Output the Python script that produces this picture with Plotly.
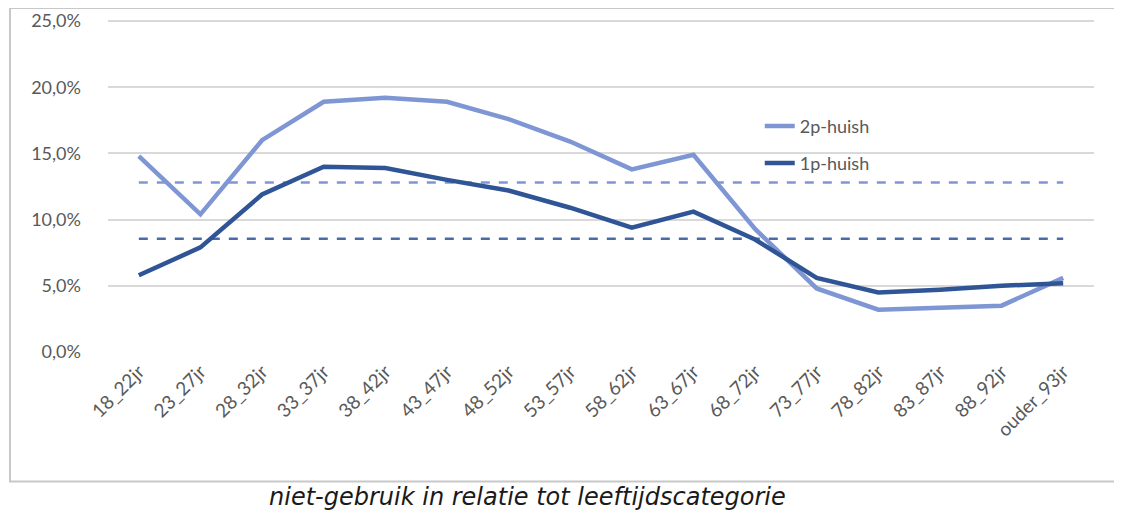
import plotly.graph_objects as go

categories = ["18_22jr", "23_27jr", "28_32jr", "33_37jr", "38_42jr", "43_47jr",
              "48_52jr", "53_57jr", "58_62jr", "63_67jr", "68_72jr", "73_77jr",
              "78_82jr", "83_87jr", "88_92jr", "ouder_93jr"]
huish_2p = [14.8, 10.4, 16.0, 18.9, 19.2, 18.9, 17.6, 15.9, 13.8, 14.9,
            9.3, 4.8, 3.2, 3.35, 3.5, 5.6]
huish_1p = [5.8, 7.9, 11.9, 14.0, 13.9, 13.0, 12.2, 10.9, 9.4, 10.6,
            8.5, 5.6, 4.5, 4.7, 5.0, 5.2]
avg_2p = 12.8
avg_1p = 8.55
y_ticks = [0, 5, 10, 15, 20, 25]
y_labels = [f"{v:.1f}%".replace(".", ",") for v in y_ticks]

light = "#7f96d4"
dark = "#2f5597"
grey = "#595959"

fig = go.Figure()
fig.add_trace(go.Scatter(x=categories, y=[avg_2p] * len(categories), mode="lines",
                         line=dict(color=light, width=2.5, dash="dash"),
                         showlegend=False, hoverinfo="skip"))
fig.add_trace(go.Scatter(x=categories, y=[avg_1p] * len(categories), mode="lines",
                         line=dict(color="#4a6aa8", width=2.5, dash="dash"),
                         showlegend=False, hoverinfo="skip"))
fig.add_trace(go.Scatter(x=categories, y=huish_2p, mode="lines", name="2p-huish",
                         line=dict(color=light, width=4.5), legend="legend"))
fig.add_trace(go.Scatter(x=categories, y=huish_1p, mode="lines", name="1p-huish",
                         line=dict(color=dark, width=4.5), legend="legend2"))

legend_style = dict(xanchor="left", yanchor="middle", bgcolor="rgba(0,0,0,0)",
                    font=dict(size=18, color=grey))

fig.update_layout(
    width=1114, height=502,
    margin=dict(l=100, r=28, t=12, b=158),
    plot_bgcolor="white", paper_bgcolor="white",
    font=dict(family="Lato, Open Sans, sans-serif", size=18, color=grey),
    legend=dict(x=0.661, y=0.680, **legend_style),
    legend2=dict(x=0.661, y=0.568, **legend_style),
    shapes=[dict(type="rect", xref="paper", yref="paper",
                 x0=-0.0994, x1=1.0274, y0=-0.3897, y1=1.036,
                 line=dict(color="#c8c8c8", width=2), layer="below")],
    annotations=[dict(text="niet-gebruik in relatie tot leeftijdscategorie",
                      xref="paper", yref="paper", x=0.425, y=-0.438,
                      xanchor="center", yanchor="middle", showarrow=False,
                      font=dict(family="DejaVu Sans", style="italic",
                                size=24, color="#1a1a1a"))],
)
fig.update_xaxes(range=[-0.5, len(categories) - 0.5], automargin=False,
                 showgrid=False, showline=False, ticks="", tickangle=-45,
                 ticklabelstandoff=4, tickfont=dict(size=19, color=grey))
fig.update_yaxes(range=[0, 25.08], tickvals=y_ticks, ticktext=y_labels, automargin=False,
                 showgrid=True, gridcolor="#d9d9d9", gridwidth=1.5,
                 zeroline=False, showline=False, ticks="", ticklabelstandoff=26,
                 tickfont=dict(size=18, color=grey))

fig.write_html("out.html")
